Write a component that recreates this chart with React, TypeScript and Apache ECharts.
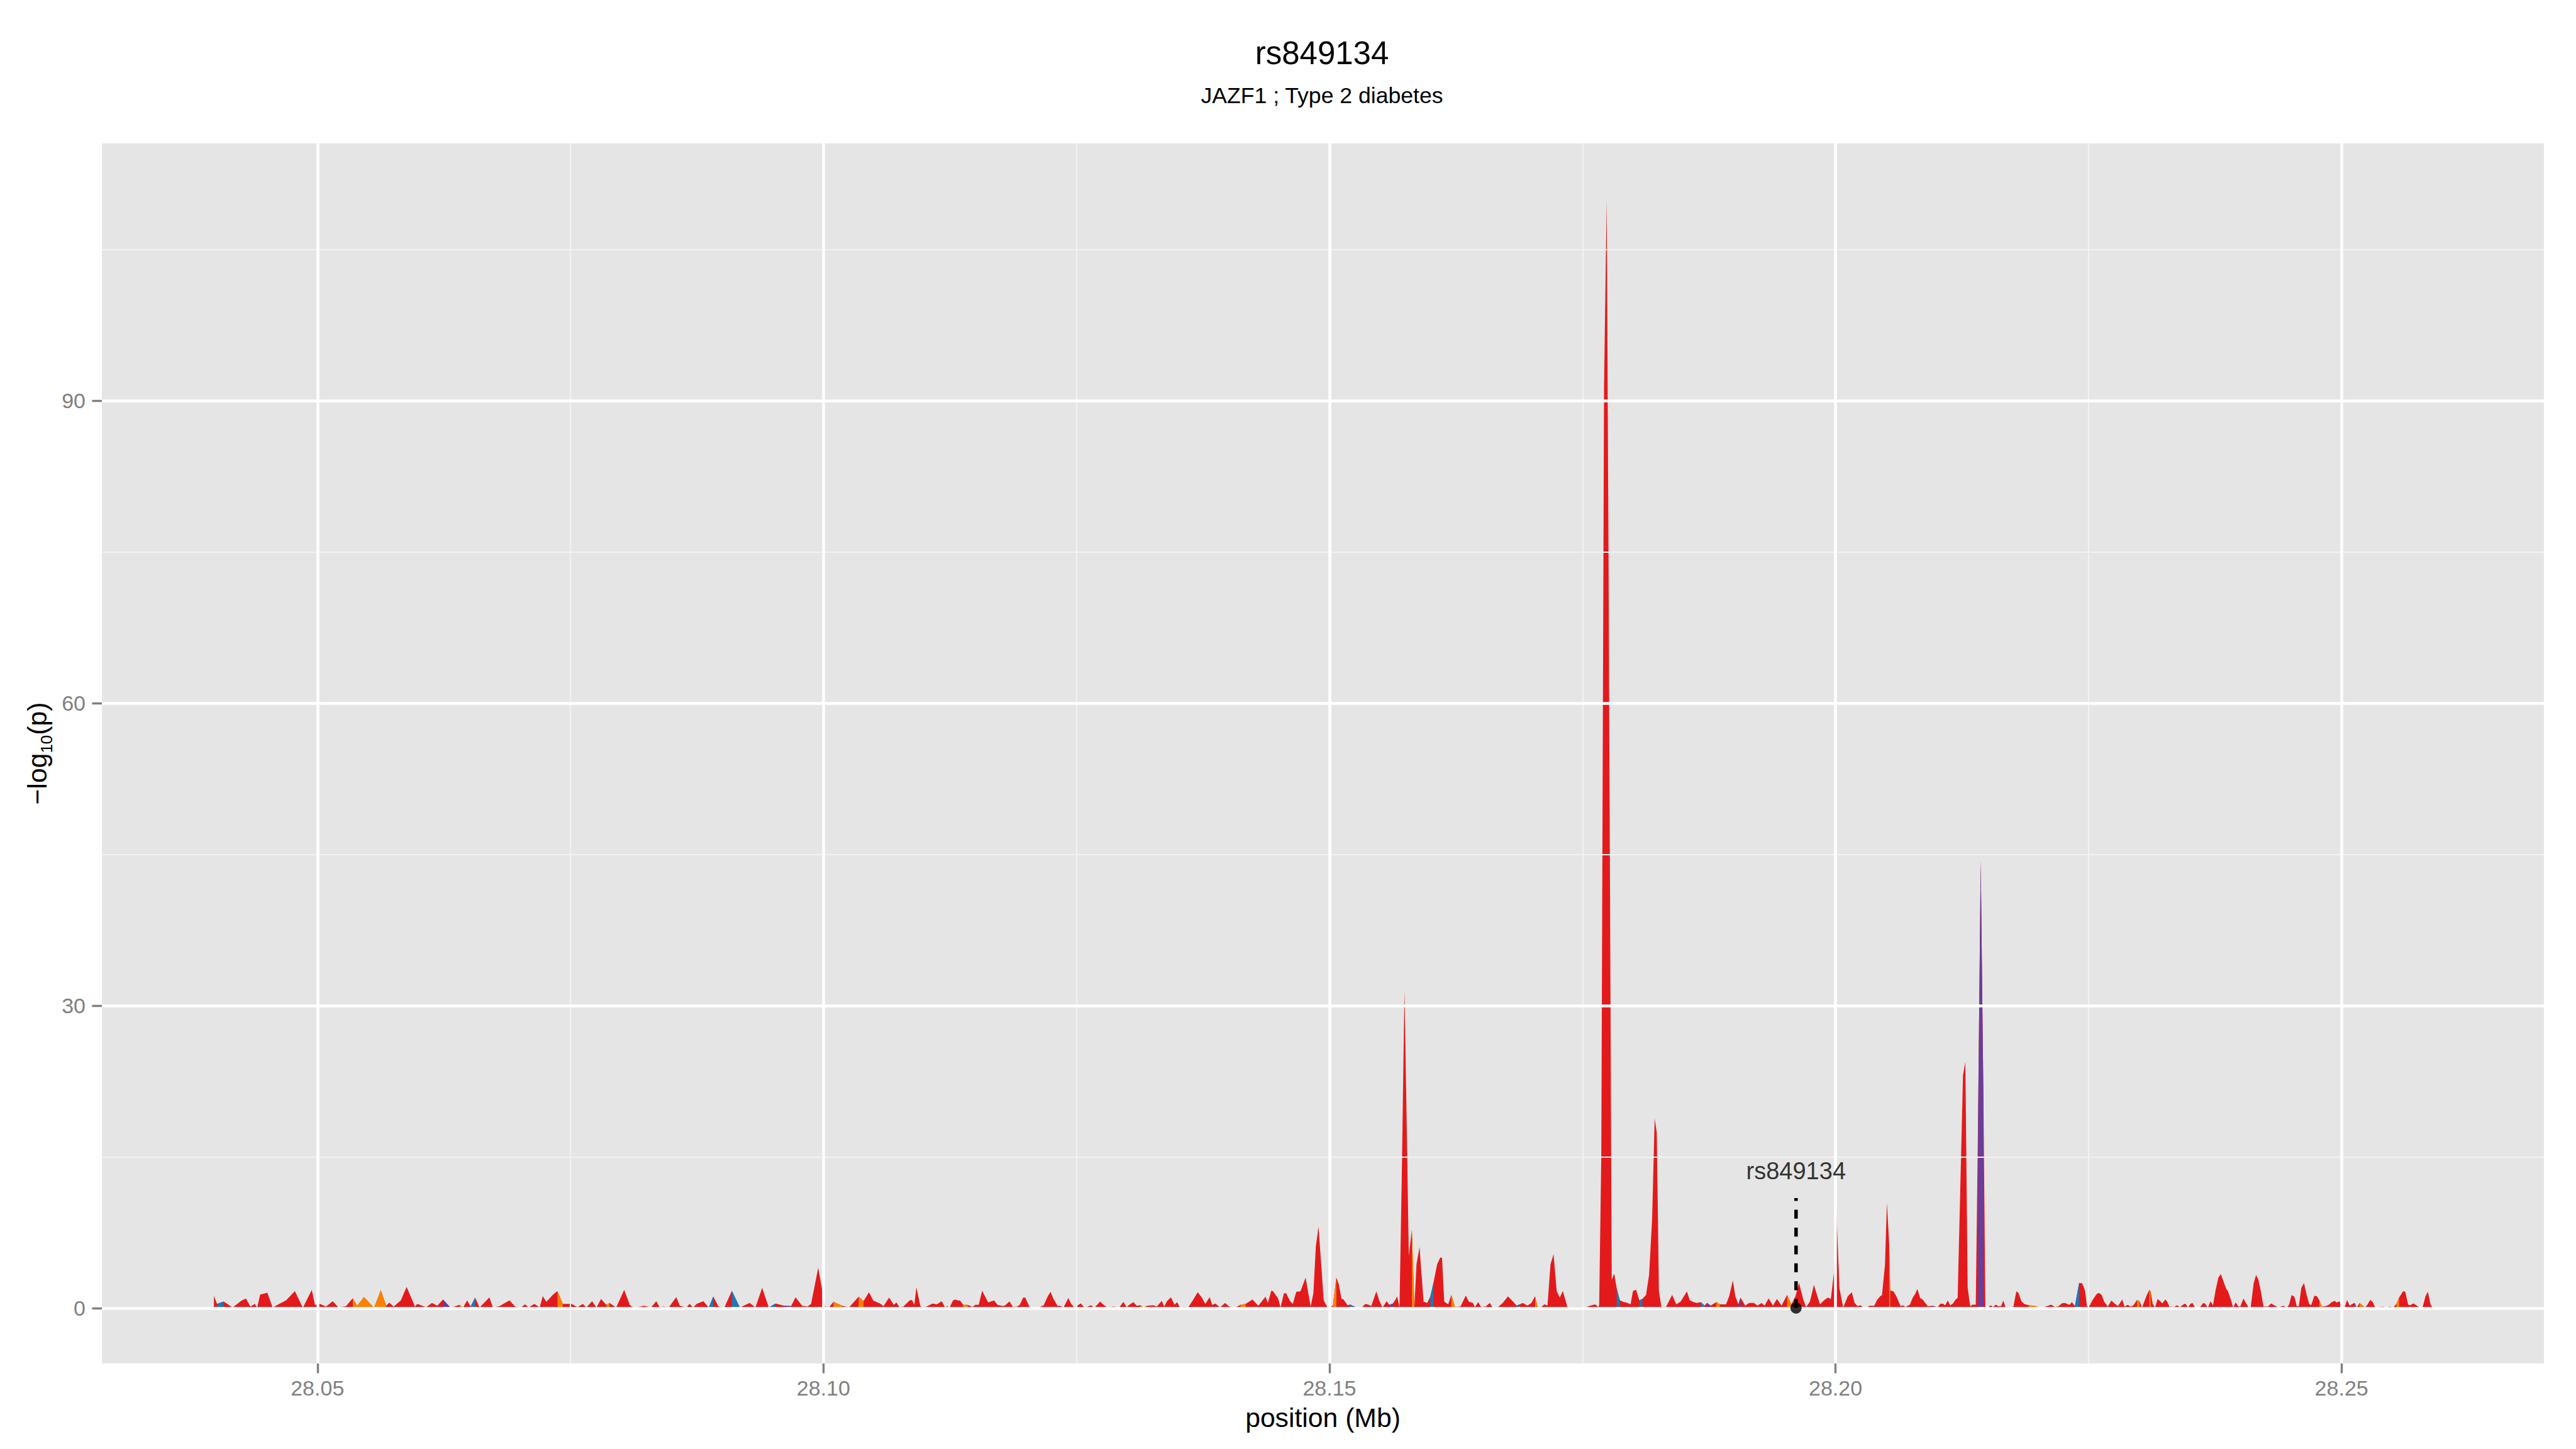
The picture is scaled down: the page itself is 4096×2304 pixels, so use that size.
import React, { useEffect, useRef } from "react";
import * as echarts from "echarts";

// ---------------- data (positions in Mb, values are -log10(p)) ----------------
const posA = [
  28.03977, 28.04008, 28.04074, 28.04162, 28.0425, 28.04294, 28.04338, 28.04382, 28.04404, 28.04434,
  28.04505, 28.04557, 28.04623, 28.04689, 28.04777, 28.04856, 28.04944, 28.04975, 28.05023, 28.05085,
  28.05151, 28.05208, 28.05283, 28.05349, 28.05393, 28.05459, 28.0556, 28.05626, 28.05679, 28.05709,
  28.05753, 28.05824, 28.05881, 28.05964, 28.05986, 28.06074, 28.06132, 28.06184, 28.06241, 28.06316,
  28.06404, 28.06439, 28.06479, 28.06514, 28.06558, 28.06602, 28.06699, 28.06734, 28.068, 28.06897,
  28.06954, 28.07011, 28.07051, 28.07086, 28.07143, 28.07196, 28.07226, 28.07262, 28.07328, 28.07372,
  28.07424, 28.07512, 28.07569, 28.07622, 28.07657, 28.07714, 28.07758, 28.07802, 28.07855, 28.07886,
  28.07952, 28.08031, 28.08088, 28.08132, 28.08229, 28.08295, 28.08348, 28.08383, 28.08418, 28.08471,
  28.08545, 28.08581, 28.08646, 28.08677, 28.08712, 28.08747, 28.08813, 28.08867, 28.08911, 28.08963,
  28.09021, 28.09095, 28.09174, 28.09271, 28.09328, 28.09394, 28.0946, 28.09526, 28.09614, 28.0968,
  28.09724, 28.0979, 28.09843, 28.09878, 28.09948, 28.10018, 28.10054, 28.10098, 28.10186, 28.10252,
  28.10348, 28.10396, 28.10449, 28.10493, 28.10559,
];
const logpA = [
  1.21, 0.41, 0.64, 0.05, 0.73, 0.94, 0.14, 0.41, 0.02, 1.33,
  1.52, 0.05, 0.41, 0.76, 1.68, 0.02, 1.79, 0.32, 0.41, 0.14,
  0.67, 0.05, 0.19, 0.97, 0.23, 1.08, 0.02, 1.77, 0.23, 0.53,
  0.14, 0.76, 2.09, 0.14, 0.41, 0.09, 0.5, 0.23, 0.85, 0.02,
  0.32, 0.05, 0.76, 0.14, 1.03, 0.05, 1.05, 0.05, 0.19, 0.76,
  0.14, 0.05, 0.37, 0.05, 0.41, 0.05, 1.17, 0.62, 1.33, 1.68,
  0.41, 0.41, 0.09, 0.41, 0.05, 0.67, 0.05, 0.9, 0.32, 0.5,
  0.05, 1.79, 0.27, 0.02, 0.23, 0.05, 0.67, 0.05, 0.14, 0.05,
  1.08, 0.23, 0.05, 0.41, 0.05, 0.41, 0.67, 0.05, 1.15, 0.14,
  0.05, 1.7, 0.05, 0.5, 0.05, 2.0, 0.05, 0.44, 0.23, 0.19,
  1.06, 0.23, 0.14, 0.41, 3.99, 0.14, 0.05, 0.62, 0.23, 0.05,
  1.12, 0.67, 1.56, 0.73, 0.44,
];

const posB = [
  28.10594, 28.10648, 28.10695, 28.10722, 28.10749, 28.1079, 28.10851, 28.10874, 28.10898, 28.10918,
  28.10959, 28.10993, 28.11026, 28.11077, 28.11121, 28.11168, 28.11202, 28.11223, 28.11246, 28.1128,
  28.11304, 28.11331, 28.11348, 28.11381, 28.11425, 28.11473, 28.115, 28.11534, 28.11568, 28.11628,
  28.11686, 28.1172, 28.1177, 28.11797, 28.11838, 28.11872, 28.11913, 28.1194, 28.11973, 28.11994,
  28.12034, 28.12075, 28.12126, 28.12176, 28.12217, 28.12244, 28.12271, 28.12312, 28.12346, 28.12372,
  28.1242, 28.12447, 28.12481, 28.12542, 28.12582, 28.12643, 28.12677, 28.12734, 28.12758, 28.12802,
  28.1287, 28.1292, 28.12964, 28.12995, 28.13022, 28.13062, 28.13096, 28.1313, 28.13164, 28.13198,
  28.13259, 28.13293, 28.13343, 28.13367, 28.13394, 28.13434, 28.13468, 28.13495, 28.13522, 28.13563,
  28.13603, 28.13648, 28.13698, 28.13739, 28.13773, 28.13817, 28.1384, 28.13874, 28.13918, 28.13969,
  28.14003, 28.14036, 28.1407, 28.14121, 28.14172, 28.14239, 28.14297, 28.14368, 28.14391, 28.14425,
  28.14442, 28.14493, 28.14517, 28.1455, 28.14571, 28.14611, 28.14638, 28.14672, 28.14713, 28.14764,
  28.14814, 28.14841, 28.14865, 28.14892, 28.14943, 28.14976, 28.15, 28.15034, 28.15068, 28.15091,
  28.15119, 28.15135, 28.15179, 28.15203, 28.15247, 28.15281, 28.15321, 28.15355, 28.15389, 28.15413,
  28.15463, 28.15491, 28.15524, 28.15565, 28.15592, 28.15626, 28.15653,
];
const logpB = [
  0.19, 1.03, 0.32, 0.55, 0.09, 0.14, 0.76, 0.8, 0.32, 2.04,
  0.14, 0.05, 0.18, 0.44, 0.37, 0.67, 0.05, 0.19, 0.02, 0.76,
  0.85, 0.73, 0.76, 0.32, 0.32, 0.11, 0.32, 0.32, 1.7, 0.55,
  0.76, 0.32, 0.19, 0.27, 0.66, 0.11, 0.14, 0.32, 1.03, 1.03,
  0.14, 0.02, 0.05, 0.27, 1.17, 1.61, 0.94, 0.23, 0.19, 0.05,
  0.99, 0.41, 0.05, 0.46, 0.02, 0.27, 0.02, 0.64, 0.41, 0.05,
  0.14, 0.02, 0.62, 0.09, 0.32, 0.58, 0.23, 0.28, 0.05, 0.23,
  0.27, 0.14, 0.71, 0.14, 0.67, 1.06, 0.32, 0.58, 0.05, 0.12,
  0.05, 0.73, 1.56, 1.03, 0.41, 1.08, 0.32, 0.44, 0.05, 0.5,
  0.19, 0.05, 0.05, 0.32, 0.41, 0.85, 0.23, 1.12, 0.5, 1.72,
  1.68, 0.94, 0.05, 1.47, 1.47, 0.67, 0.41, 1.61, 1.65, 3.01,
  0.14, 1.47, 6.08, 8.08, 0.76, 0.14, 0, 0.27, 3.01, 2.39,
  0.9, 0.9, 0.27, 0.35, 0.14, 0.02, 0.09, 0.41, 0.32, 0.19,
  1.65, 0.76, 0.05, 0.67, 0.32, 0.44, 0.85,
];

const posC = [
  28.15668, 28.15692, 28.15714, 28.15741, 28.15759, 28.15784, 28.15814, 28.15839, 28.1586, 28.1589,
  28.15912, 28.1593, 28.15966, 28.15997, 28.16027, 28.16064, 28.16094, 28.16112, 28.16134, 28.16173,
  28.16204, 28.1624, 28.16295, 28.16347, 28.16377, 28.16417, 28.16438, 28.16469, 28.16499, 28.16545,
  28.16584, 28.16612, 28.16666, 28.16712, 28.16764, 28.16819, 28.16849, 28.1688, 28.1691, 28.16956,
  28.16995, 28.17032, 28.17056, 28.17093, 28.17123, 28.17154, 28.17184, 28.17214, 28.17245, 28.17275,
  28.17306, 28.17351, 28.17397, 28.17458, 28.17519, 28.1758, 28.17625, 28.17656, 28.17665, 28.17686,
  28.17713, 28.17739, 28.17757, 28.17789, 28.17814, 28.17838, 28.17869, 28.17899, 28.17945, 28.17975,
  28.17999, 28.1803, 28.18061, 28.18091, 28.18128, 28.18158, 28.18188, 28.18213, 28.18234, 28.18255,
  28.1828, 28.18325, 28.18386, 28.18426, 28.18469, 28.18532, 28.1856, 28.18599, 28.1863, 28.18669,
  28.18706, 28.1873, 28.18767, 28.18822, 28.18858, 28.18919, 28.18949, 28.18986, 28.1901, 28.19041,
  28.19062, 28.19108, 28.19147, 28.19193, 28.1923, 28.19269, 28.19299, 28.19339, 28.19382, 28.19421,
  28.19467, 28.19522, 28.19564, 28.19604, 28.1964, 28.1968, 28.1971, 28.19747, 28.19787, 28.19817,
  28.19847, 28.19887, 28.19924, 28.19954, 28.19985, 28.20009, 28.20039, 28.20076, 28.20121, 28.20161,
];
const logpC = [
  1.16, 0.1, 12.8, 31.5, 20.7, 5.13, 7.78, 0.1, 4.34, 6.06,
  3.02, 0.63, 0.5, 1.16, 2.49, 4.34, 5.0, 5.0, 0.63, 0.37,
  1.3, 0.1, 0.16, 1.24, 0.63, 0.5, 0.1, 0.58, 0.1, 0.16,
  0.5, 0.05, 0.1, 0.5, 1.16, 0.58, 0.24, 0.37, 0.5, 0.24,
  0.5, 1.16, 0.1, 0.1, 0.37, 0.24, 4.34, 5.34, 1.69, 1.03,
  1.69, 0.1, 0.05, 0.1, 0.05, 0.24, 0.37, 0.1, 0.3, 15.3,
  91.4, 109.9, 75.2, 2.8, 3.41, 1.96, 0.77, 0.63, 0.5, 0.37,
  1.69, 1.82, 0.77, 0.9, 1.3, 3.28, 8.83, 18.8, 17.4, 1.69,
  0.1, 0.1, 1.3, 0.37, 0.63, 1.64, 0.77, 0.58, 0.5, 0.58,
  0.24, 0.5, 0.24, 0.58, 0.37, 0.37, 1.16, 2.75, 1.16, 0.37,
  1.03, 0.24, 0.5, 0.5, 0.24, 0.5, 0.24, 0.95, 0.24, 0.9,
  0.24, 1.3, 0.37, 1.16, 2.49, 0.9, 0.1, 0.63, 2.3, 1.3,
  0.37, 0.77, 1.03, 0.9, 3.54, 9.57, 1.96, 0.05, 1.16, 1.56,
];

const posD = [
  28.20189, 28.20217, 28.20246, 28.20276, 28.20307, 28.20335, 28.20383, 28.20411, 28.20442, 28.20459,
  28.20489, 28.20508, 28.2053, 28.20541, 28.20572, 28.20601, 28.20619, 28.20643, 28.20667, 28.20691,
  28.20735, 28.20762, 28.20788, 28.20809, 28.20836, 28.20862, 28.20912, 28.20956, 28.21009, 28.21036,
  28.21062, 28.21083, 28.2111, 28.21133, 28.21159, 28.21186, 28.21207, 28.2126, 28.21283, 28.21306,
  28.21331, 28.21354, 28.21386, 28.21409, 28.21435, 28.21462, 28.21481, 28.21504, 28.21531, 28.21557,
  28.21584, 28.2161, 28.21637, 28.21658, 28.21681, 28.21757, 28.21787, 28.21808, 28.21837, 28.21867,
  28.21911, 28.21964, 28.22035, 28.22088, 28.22132, 28.22167, 28.22203, 28.22238, 28.22265, 28.22312,
  28.22336, 28.22366, 28.22407, 28.22437, 28.22466, 28.22485, 28.22513, 28.22537, 28.22579, 28.22603,
  28.22631, 28.22655, 28.22691, 28.22726, 28.22762, 28.22792, 28.22833, 28.22856, 28.22887, 28.22916,
  28.22944, 28.22979, 28.23005, 28.23029, 28.23076,
];
const logpD = [
  0.5, 0.19, 0.27, 0.05, 0, 0.23, 0.23, 0.8, 1.17, 1.26,
  4.3, 10.45, 6.4, 1.74, 1.65, 1.17, 0.76, 0.18, 0.27, 0.1,
  0.33, 1.0, 1.4, 1.89, 1.0, 0.83, 0.17, 0.23, 0.07, 0.43,
  0.43, 0.27, 0.73, 0.27, 0.43, 0.83, 1.0, 23.1, 24.4, 2.0,
  0.17, 0.33, 0.33, 18.8, 44.35, 20.4, 0, 0, 0.27, 0.1,
  0.33, 0.17, 0.2, 0.73, 0.07, 0.1, 1.66, 1.5, 0.66, 0.4,
  0.27, 0.23, 0, 0.17, 0.33, 0.1, 0.17, 0.47, 0.5, 0.32,
  0.58, 0.19, 2.48, 2.45, 1.74, 0.14, 0.27, 0.73, 1.38, 1.5,
  1.29, 0.62, 0.14, 0.73, 0.41, 0.19, 0.85, 0.14, 0.32, 0.14,
  0.27, 0.8, 0.67, 0.05, 1.29,
];

const posE = [
  28.23101, 28.23114, 28.23134, 28.23158, 28.23183, 28.23209, 28.23229, 28.2326, 28.2328, 28.233,
  28.23316, 28.23341, 28.23377, 28.23402, 28.23432, 28.23458, 28.23483, 28.23507, 28.23527, 28.23554,
  28.23594, 28.23635, 28.23655, 28.23678, 28.23706, 28.2373, 28.23757, 28.23783, 28.23807, 28.23832,
  28.23858, 28.23878, 28.23909, 28.23929, 28.23954, 28.2398, 28.24, 28.24031, 28.24061, 28.24081,
  28.24102, 28.24132, 28.24156, 28.24179, 28.24203, 28.24229, 28.24274, 28.24305, 28.24335, 28.24376,
  28.24426, 28.24457, 28.24481, 28.24507, 28.24534, 28.24558, 28.24578, 28.24603, 28.24629, 28.24656,
  28.2468, 28.247, 28.24731, 28.24757, 28.24781, 28.24806, 28.24842, 28.24873, 28.24903, 28.24933,
  28.24954, 28.24978, 28.25004, 28.25029, 28.25055, 28.25081, 28.25107, 28.2513, 28.25151, 28.25177,
  28.25208, 28.25232, 28.25252, 28.25285, 28.25309, 28.25333, 28.25366, 28.25406, 28.25441, 28.25481,
  28.25508, 28.25542, 28.25569, 28.25609, 28.2563, 28.25658, 28.25678, 28.25711, 28.25739, 28.25771,
  28.258, 28.2583, 28.25853, 28.25881, 28.25901,
];
const logpE = [
  1.79, 1.65, 0.41, 0.05, 0.89, 0.67, 0.46, 0.85, 0.58, 0.11,
  0.14, 0.09, 0.27, 0.05, 0.32, 0.44, 0.05, 0.41, 0.5, 0.02,
  0, 0.5, 0.41, 0.02, 0.67, 0.27, 1.83, 3.01, 3.38, 2.68,
  1.97, 1.65, 0.76, 0.05, 0.55, 0.18, 0.14, 0.94, 0.41, 0.09,
  0.02, 2.45, 3.28, 2.8, 1.65, 0.14, 0.14, 0.46, 0.27, 0.05,
  0.23, 0.02, 0.32, 1.29, 1.12, 0.18, 0.18, 2.0, 2.48, 1.29,
  0.41, 0.27, 1.2, 1.17, 0.76, 0.14, 0.18, 0.32, 0.58, 0.71,
  0.53, 0.67, 0.14, 0, 0.8, 0.23, 0.41, 0.5, 0.02, 0.5,
  0.27, 0.05, 0.27, 0.82, 0.58, 0.05, 0.05, 0.14, 0.02, 0.14,
  0.02, 0.41, 1.03, 1.68, 1.61, 0.35, 0.27, 0.46, 0.27, 0.05,
  0.02, 1.17, 1.61, 0.32, 0,
];

// SNPs whose stretch of the track is drawn in another colour (default is red)
const orangeSnps = [
  28.05349, 28.05459, 28.05626, 28.06404, 28.07372, 28.07855, 28.08383, 28.10098, 28.10348, 28.11381,
  28.1313, 28.14121, 28.15034, 28.15814, 28.16204, 28.17032, 28.18822, 28.19522, 28.2053, 28.21911,
  28.21964, 28.22979, 28.23101, 28.23316, 28.24081, 28.24781, 28.25177, 28.25208, 28.25542,
];
const blueSnps = [
  28.04008, 28.06514, 28.08867, 28.09095, 28.0946, 28.15203, 28.15997, 28.16849, 28.17838, 28.18061,
  28.18669, 28.22366, 28.2513, 28.25441,
];
const purpleSnps = [28.06241, 28.09614, 28.15592, 28.1873, 28.19041, 28.20956, 28.21409, 28.21435];

// axes
const xMajorTicks = [28.05, 28.1, 28.15, 28.2, 28.25];
const xMinorTicks = [28.075, 28.125, 28.175, 28.225];
const yMajorTicks = [0, 30, 60, 90];
const yMinorTicks = [15, 45, 75, 105];
const xRange = [28.0287, 28.27];
const yRange = [-5.5, 115.5];

// lead SNP annotation
const leadSnpName = "rs849134";
const leadSnpPos = 28.1961;
const leadStem = [0, 10.9];
const leadLabelAt = 13.6;

const titleText = "rs849134";
const subtitleText = "JAZF1 ; Type 2 diabetes";

// ---------------- styling ----------------
const FONT = '"Liberation Sans", Arial, Helvetica, sans-serif';
const RED = "#E31A1C";
const ORANGE = "#FF7F00";
const BLUE = "#1F78B4";
const PURPLE = "#6A3D9A";
const GREY = "#7F7F7F";

const position = [...posA, ...posB, ...posC, ...posD, ...posE];
const logP = [...logpA, ...logpB, ...logpC, ...logpD, ...logpE];

function overlaySeries(list: number[], color: string) {
  const set = new Set(list);
  const data = position.map((p, i) => {
    const on = set.has(p) || (i > 0 && set.has(position[i - 1]));
    return [p, on ? logP[i] : "-"];
  });
  return {
    type: "line",
    data,
    showSymbol: false,
    symbol: "none",
    connectNulls: false,
    silent: true,
    z: 3,
    lineStyle: { width: 0, opacity: 0 },
    areaStyle: { color, opacity: 1 },
  };
}

function buildOption(): any {
  const grid = { left: 162, top: 228, width: 3883, height: 1940 };
  const gridLines = [
    ...xMinorTicks.map((v) => ({ xAxis: v, lineStyle: { color: "#F2F2F2", width: 2.2, type: "solid" } })),
    ...yMinorTicks.map((v) => ({ yAxis: v, lineStyle: { color: "#F2F2F2", width: 2.2, type: "solid" } })),
    ...xMajorTicks.map((v) => ({ xAxis: v, lineStyle: { color: "#FFFFFF", width: 4.5, type: "solid" } })),
    ...yMajorTicks.map((v) => ({ yAxis: v, lineStyle: { color: "#FFFFFF", width: 4.5, type: "solid" } })),
  ];
  return {
    animation: false,
    backgroundColor: "#FFFFFF",
    textStyle: { fontFamily: FONT },
    grid: { ...grid, show: true, backgroundColor: "#E5E5E5", borderWidth: 0, containLabel: false },
    graphic: [
      {
        type: "text",
        x: 2102,
        y: 84,
        style: { text: titleText, fontSize: 51, fontFamily: FONT, fill: "#000", align: "center", verticalAlign: "middle" },
      },
      {
        type: "text",
        x: 2102,
        y: 152,
        style: { text: subtitleText, fontSize: 35.6, fontFamily: FONT, fill: "#000", align: "center", verticalAlign: "middle" },
      },
    ],
    xAxis: {
      type: "value",
      min: xRange[0],
      max: xRange[1],
      axisLine: { show: false, onZero: false },
      splitLine: { show: false },
      axisTick: { show: true, customValues: xMajorTicks, length: 15.5, lineStyle: { color: GREY, width: 3.4 } },
      axisLabel: {
        show: true,
        customValues: xMajorTicks,
        formatter: (v: number) => v.toFixed(2),
        fontSize: 34,
        color: GREY,
        margin: 22,
        fontFamily: FONT,
      },
      name: "position (Mb)",
      nameLocation: "middle",
      nameGap: 64,
      nameTextStyle: { fontSize: 42.7, color: "#000", fontFamily: FONT },
    },
    yAxis: {
      type: "value",
      min: yRange[0],
      max: yRange[1],
      axisLine: { show: false, onZero: false },
      splitLine: { show: false },
      axisTick: { show: true, customValues: yMajorTicks, length: 15.5, lineStyle: { color: GREY, width: 3.4 } },
      axisLabel: {
        show: true,
        customValues: yMajorTicks,
        formatter: (v: number) => String(v),
        fontSize: 34,
        color: GREY,
        margin: 26,
        fontFamily: FONT,
      },
      name: "{m|\u2212log}{s|10}{m|(p)}",
      nameLocation: "middle",
      nameRotate: 90,
      nameGap: 74,
      nameTextStyle: {
        fontSize: 42.7,
        color: "#000",
        fontFamily: FONT,
        rich: {
          m: { fontSize: 42.7, lineHeight: 56, color: "#000", fontFamily: FONT },
          s: { fontSize: 26, lineHeight: 26, verticalAlign: "bottom", color: "#000", fontFamily: FONT },
        },
      },
    },
    series: [
      {
        type: "line",
        data: [],
        z: 1,
        silent: true,
        showSymbol: false,
        markLine: {
          silent: true,
          precision: 6,
          symbol: ["none", "none"],
          label: { show: false },
          emphasis: { disabled: true },
          data: gridLines,
        },
      },
      {
        type: "line",
        data: position.map((p, i) => [p, logP[i]]),
        showSymbol: false,
        symbol: "none",
        silent: true,
        z: 2,
        lineStyle: { width: 0, opacity: 0 },
        areaStyle: { color: RED, opacity: 1 },
      },
      overlaySeries(orangeSnps, ORANGE),
      overlaySeries(blueSnps, BLUE),
      overlaySeries(purpleSnps, PURPLE),
      {
        type: "line",
        data: leadStem.map((v) => [leadSnpPos, v]),
        showSymbol: false,
        symbol: "none",
        silent: true,
        z: 5,
        lineStyle: { color: "#000", width: 5.5, type: [14.2, 14.2] },
      },
      {
        type: "scatter",
        data: [[leadSnpPos, 0]],
        symbol: "circle",
        symbolSize: 18,
        silent: true,
        z: 6,
        itemStyle: { color: "#000" },
      },
      {
        type: "scatter",
        data: [[leadSnpPos, leadLabelAt]],
        symbolSize: 1,
        silent: true,
        z: 6,
        itemStyle: { color: "rgba(0,0,0,0)" },
        label: {
          show: true,
          position: "inside",
          formatter: leadSnpName,
          fontSize: 38,
          color: "#000",
          fontFamily: FONT,
        },
      },
    ],
  };
}

export default function App() {
  const ref = useRef<HTMLDivElement>(null);
  useEffect(() => {
    if (!ref.current) return;
    const chart = echarts.init(ref.current, null, { renderer: "svg" });
    chart.setOption(buildOption());
    return () => chart.dispose();
  }, []);
  return (
    <div
      ref={ref}
      style={{ position: "fixed", left: 0, top: 0, width: 4096, height: 2304, background: "#fff" }}
    />
  );
}
